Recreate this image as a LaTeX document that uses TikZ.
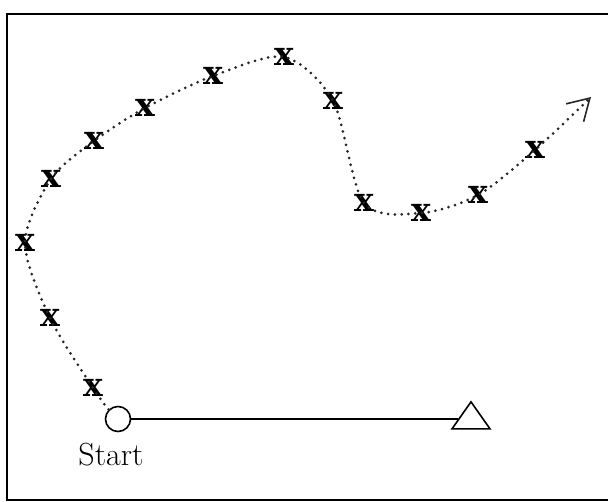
\documentclass[tikz,border=0pt]{standalone}
\usepackage{fontspec}
\usepackage{tikz}
\usetikzlibrary{arrows.meta, positioning, shapes.geometric}
\newfontfamily\markfont{DejaVu Serif}

\begin{document}
\begin{tikzpicture}[x=1pt, y=-1pt,
    xmark/.style={inner sep=0pt, font=\fontsize{33}{33}\selectfont\markfont\bfseries},
    route/.style={line width=3pt, dash pattern=on 0pt off 6.8pt, line cap=round, black!85,
                  -{Straight Barb[length=21pt, width=25pt, line width=1.6pt]}},
    startpt/.style={circle, draw, line width=1.6pt, minimum size=25pt, inner sep=0pt},
    goalpt/.style={isosceles triangle, shape border rotate=90, isosceles triangle stretches,
                   draw, line width=1.6pt, minimum width=38pt, minimum height=27pt, inner sep=0pt},
    lbl/.style={font=\fontsize{32}{32}\selectfont}
]
\useasboundingbox (0,0) rectangle (608,502);
% frame (right side runs off the page)
\draw[line width=1.8pt] (608,14) -- (7,14) -- (7,500) -- (608,500);

\node[startpt] (start) at (118,419) {};
\node[goalpt] (goal) at (471,419) {};
\node[lbl] (startlbl) at (111,455) {Start};

\foreach \n/\x/\y in {1/93/388, 2/50/318, 3/25/243, 4/51/179, 5/94/141, 6/145/108,
                      7/213/76, 8/284/57, 9/333/101, 10/364/203, 11/421/213,
                      12/478/195, 13/535/150}
    \node[xmark] (m\n) at (\x,\y) {x};
\coordinate (tip) at (591,97);

\draw[line width=1.4pt] (start) -- (goal);
\draw[route] plot[smooth] coordinates {(start.135) (m1) (m2) (m3) (m4) (m5) (m6) (m7)
    (m8) (m9) (m10) (m11) (m12) (m13) (tip)};
\end{tikzpicture}
\end{document}
